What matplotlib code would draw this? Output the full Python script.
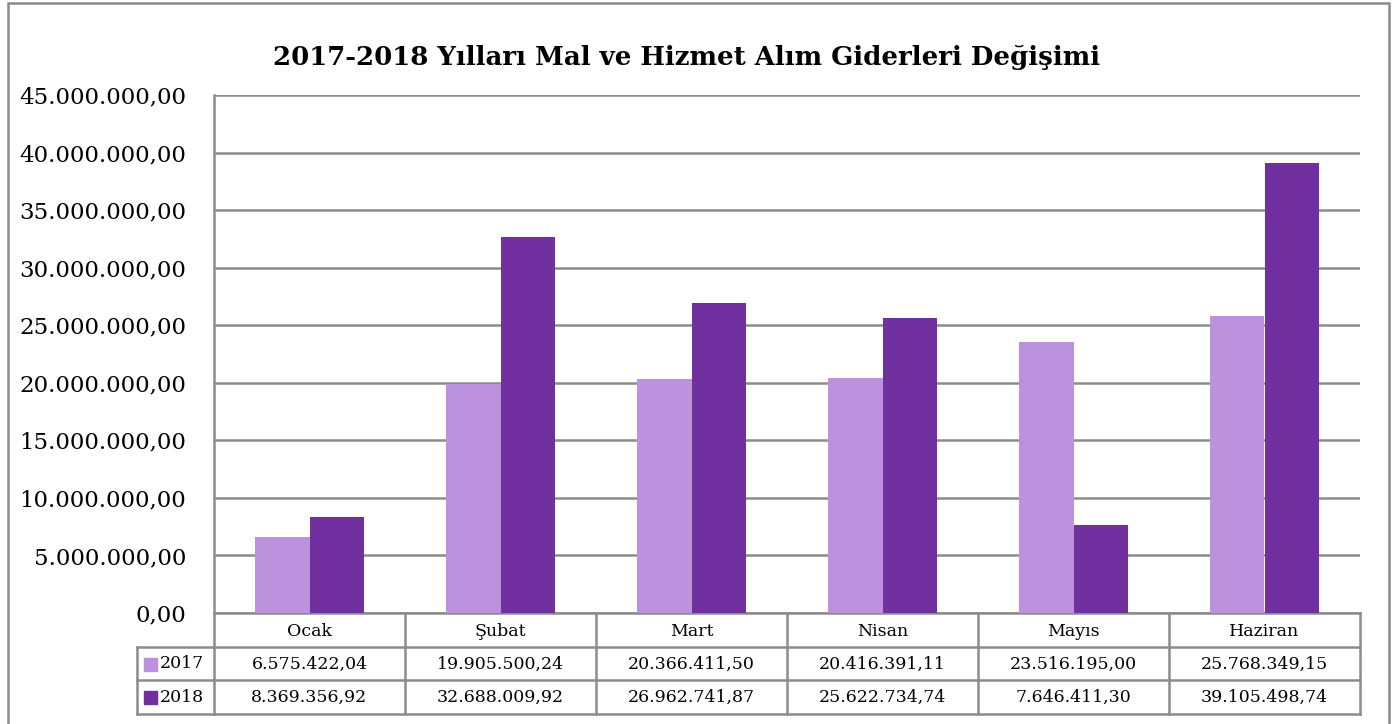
import matplotlib
matplotlib.use("Agg")
import matplotlib.pyplot as plt
import matplotlib.transforms as mtransforms
from matplotlib.lines import Line2D
from matplotlib.patches import Rectangle
from matplotlib.ticker import FuncFormatter, MultipleLocator
import numpy as np

months = ["Ocak", "Şubat", "Mart", "Nisan", "Mayıs", "Haziran"]
series_names = ["2017", "2018"]
values_2017 = [6575422.04, 19905500.24, 20366411.50, 20416391.11, 23516195.00, 25768349.15]
values_2018 = [8369356.92, 32688009.92, 26962741.87, 25622734.74, 7646411.30, 39105498.74]
title = "2017-2018 Yılları Mal ve Hizmet Alım Giderleri Değişimi"

COLORS = ["#bc91de", "#7030a0"]
GRID = "#8c8c8c"
W, H = 1397, 724

plt.rcParams["font.family"] = ["DejaVu Serif"]


def tr_fmt(v):
    # Turkish number format: 1.234.567,89
    s = f"{v:,.2f}"
    return s.replace(",", "X").replace(".", ",").replace("X", ".")


def fy(py):
    return (H - py) / H


def fx(px):
    return px / W


fig = plt.figure(figsize=(W / 100, H / 100), dpi=100)
fig.patch.set_facecolor("white")

# outer chart border
fig.add_artist(Rectangle((fx(8), fy(728)), fx(1381), (728 - 3) / H,
                         transform=fig.transFigure, fill=False,
                         edgecolor="#8a8a8a", linewidth=1.8))

ax = fig.add_axes([fx(214), fy(613), fx(1146), 518 / H])

x = np.arange(len(months))
bw = 1 / 3.5
ax.bar(x - bw / 2, values_2017, bw, color=COLORS[0], zorder=3)
ax.bar(x + bw / 2, values_2018, bw, color=COLORS[1], zorder=3)

ax.set_xlim(-0.5, len(months) - 0.5)
ax.set_ylim(0, 45_000_000)
ax.yaxis.set_major_locator(MultipleLocator(5_000_000))
ax.yaxis.set_major_formatter(FuncFormatter(lambda v, p: tr_fmt(v)))
ax.tick_params(axis="y", length=0, pad=20, labelsize=16.5)
ax.set_xticks([])
ax.grid(axis="y", color=GRID, linewidth=1.8, zorder=0)
for side in ["top", "right", "bottom"]:
    ax.spines[side].set_visible(False)
ax.spines["left"].set_color(GRID)
ax.spines["left"].set_linewidth(1.8)

fig.text(fx(687), fy(57), title, ha="center", va="center",
         fontsize=18.7, fontweight="bold")

# data table under the axis
blend = mtransforms.blended_transform_factory(ax.transData, fig.transFigure)
row_y = [613, 647, 680, 714]
left = -0.5
right = len(months) - 0.5
lw = 1.8
for yy in row_y:
    ax.add_line(Line2D([left, right], [fy(yy), fy(yy)], transform=blend,
                       color=GRID, lw=lw, clip_on=False))
for i in range(len(months) + 1):
    xx = i - 0.5
    ax.add_line(Line2D([xx, xx], [fy(613), fy(714)], transform=blend,
                       color=GRID, lw=lw, clip_on=False))
# legend column
for yy in row_y[1:]:
    fig.add_artist(Line2D([fx(137), fx(214)], [fy(yy), fy(yy)],
                          transform=fig.transFigure, color=GRID, lw=lw))
fig.add_artist(Line2D([fx(137), fx(137)], [fy(647), fy(714)],
                      transform=fig.transFigure, color=GRID, lw=lw))

for i, m in enumerate(months):
    ax.text(i, fy(631), m, transform=blend, ha="center", va="center",
            fontsize=12.5)
    ax.text(i, fy(664), tr_fmt(values_2017[i]), transform=blend,
            ha="center", va="center", fontsize=12.5)
    ax.text(i, fy(697), tr_fmt(values_2018[i]), transform=blend,
            ha="center", va="center", fontsize=12.5)

for name, color, yc in zip(series_names, COLORS, [664, 697]):
    fig.add_artist(Rectangle((fx(144), fy(yc + 6.5)), fx(13), 13 / H,
                             transform=fig.transFigure, color=color))
    fig.text(fx(160), fy(yc), name, ha="left", va="center", fontsize=12.5)

fig.savefig("out.png", dpi=100)
